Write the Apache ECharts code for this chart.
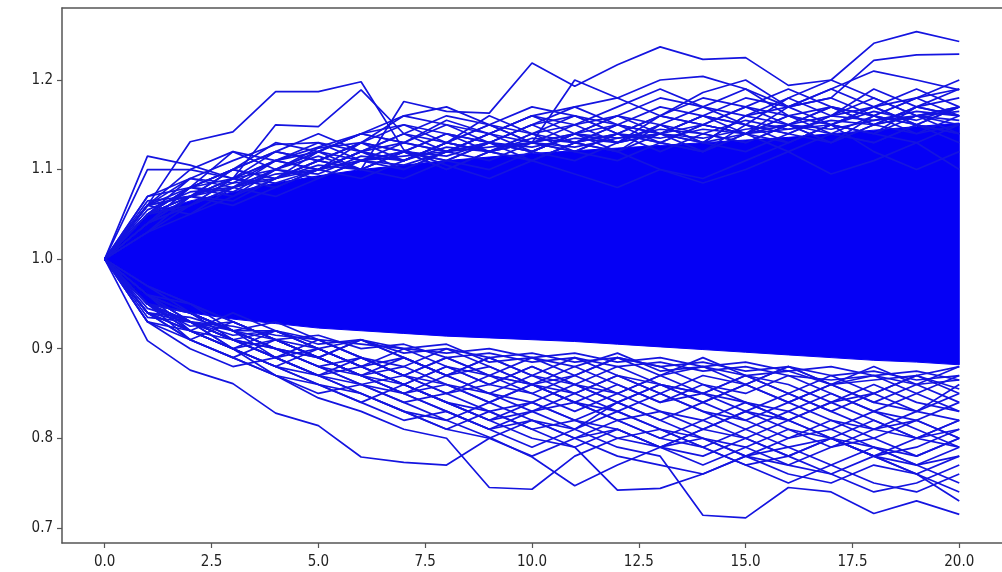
<!DOCTYPE html>
<html>
<head>
<meta charset="utf-8">
<script src="https://cdn.jsdelivr.net/npm/echarts@6/dist/echarts.min.js"></script>
<style>
  html, body { margin: 0; padding: 0; background: #fff; }
  #chart { width: 1002px; height: 572px; }
</style>
</head>
<body>
<div id="chart"></div>
<script>
const steps = [0, 1, 2, 3, 4, 5, 6, 7, 8, 9, 10, 11, 12, 13, 14, 15, 16, 17, 18, 19, 20];
const xTicks = [0, 2.5, 5, 7.5, 10, 12.5, 15, 17.5, 20];
const yTicks = [0.7, 0.8, 0.9, 1.0, 1.1, 1.2];

// dense core where the paths overlap into a solid mass
const coreUpper = [1.0, 1.05, 1.065, 1.075, 1.085, 1.093, 1.10, 1.105, 1.11, 1.114, 1.118, 1.121, 1.124, 1.127, 1.13, 1.133, 1.136, 1.14, 1.144, 1.148, 1.152];
const coreLower = [1.0, 0.95, 0.94, 0.933, 0.928, 0.923, 0.92, 0.917, 0.914, 0.912, 0.91, 0.908, 0.905, 0.902, 0.899, 0.896, 0.893, 0.89, 0.887, 0.885, 0.882];

// paths that stick out above the core
const upperPaths = [
  [1, 1.06, 1.131, 1.142, 1.187, 1.187, 1.198, 1.122, 1.105, 1.09, 1.11, 1.095, 1.08, 1.10, 1.085, 1.10, 1.12, 1.095, 1.11, 1.13, 1.10],
  [1, 1.115, 1.105, 1.09, 1.15, 1.148, 1.189, 1.14, 1.12, 1.13, 1.11, 1.13, 1.12, 1.10, 1.09, 1.11, 1.13, 1.15, 1.12, 1.10, 1.12],
  [1, 1.10, 1.10, 1.12, 1.11, 1.12, 1.10, 1.176, 1.165, 1.163, 1.219, 1.193, 1.217, 1.237, 1.223, 1.225, 1.194, 1.20, 1.241, 1.254, 1.243],
  [1, 1.04, 1.07, 1.10, 1.13, 1.12, 1.14, 1.16, 1.15, 1.14, 1.13, 1.20, 1.18, 1.20, 1.204, 1.19, 1.17, 1.18, 1.222, 1.228, 1.229],
  [1, 1.05, 1.08, 1.09, 1.12, 1.14, 1.12, 1.13, 1.15, 1.13, 1.15, 1.17, 1.18, 1.16, 1.186, 1.20, 1.17, 1.19, 1.21, 1.20, 1.189],
  [1, 1.07, 1.09, 1.11, 1.128, 1.13, 1.11, 1.12, 1.10, 1.12, 1.14, 1.13, 1.15, 1.14, 1.16, 1.15, 1.18, 1.16, 1.17, 1.18, 1.16],
  [1, 1.06, 1.08, 1.12, 1.10, 1.124, 1.13, 1.16, 1.17, 1.15, 1.13, 1.14, 1.12, 1.14, 1.13, 1.16, 1.17, 1.15, 1.14, 1.16, 1.17],
  [1, 1.05, 1.09, 1.085, 1.11, 1.125, 1.14, 1.13, 1.155, 1.14, 1.16, 1.15, 1.16, 1.18, 1.17, 1.19, 1.16, 1.17, 1.15, 1.17, 1.18],
  [1, 1.04, 1.06, 1.09, 1.08, 1.10, 1.12, 1.11, 1.13, 1.16, 1.14, 1.15, 1.13, 1.15, 1.17, 1.15, 1.14, 1.16, 1.18, 1.16, 1.15],
  [1, 1.03, 1.07, 1.08, 1.10, 1.09, 1.11, 1.13, 1.12, 1.14, 1.16, 1.14, 1.16, 1.15, 1.13, 1.14, 1.16, 1.15, 1.17, 1.19, 1.17],
  [1, 1.06, 1.05, 1.08, 1.09, 1.11, 1.13, 1.15, 1.14, 1.12, 1.13, 1.15, 1.17, 1.19, 1.17, 1.16, 1.15, 1.13, 1.15, 1.14, 1.16],
  [1, 1.05, 1.07, 1.065, 1.09, 1.10, 1.12, 1.10, 1.12, 1.14, 1.12, 1.11, 1.13, 1.16, 1.15, 1.17, 1.19, 1.17, 1.16, 1.14, 1.15],
  [1, 1.04, 1.08, 1.10, 1.09, 1.11, 1.10, 1.12, 1.14, 1.13, 1.15, 1.13, 1.14, 1.12, 1.14, 1.13, 1.15, 1.17, 1.16, 1.18, 1.20],
  [1, 1.03, 1.05, 1.07, 1.09, 1.11, 1.13, 1.12, 1.10, 1.12, 1.13, 1.12, 1.14, 1.16, 1.18, 1.17, 1.15, 1.14, 1.16, 1.15, 1.14],
  [1, 1.06, 1.09, 1.08, 1.10, 1.115, 1.10, 1.09, 1.11, 1.13, 1.15, 1.16, 1.14, 1.13, 1.15, 1.14, 1.12, 1.14, 1.13, 1.15, 1.17],
  [1, 1.05, 1.06, 1.09, 1.11, 1.10, 1.12, 1.14, 1.13, 1.12, 1.11, 1.13, 1.15, 1.14, 1.12, 1.15, 1.14, 1.16, 1.19, 1.17, 1.16],
  [1, 1.04, 1.07, 1.09, 1.10, 1.12, 1.11, 1.10, 1.12, 1.11, 1.13, 1.14, 1.13, 1.15, 1.14, 1.13, 1.15, 1.17, 1.15, 1.16, 1.14],
  [1, 1.05, 1.08, 1.10, 1.12, 1.11, 1.13, 1.11, 1.13, 1.15, 1.14, 1.16, 1.15, 1.13, 1.15, 1.17, 1.16, 1.15, 1.17, 1.15, 1.13],
  [1, 1.04, 1.06, 1.08, 1.07, 1.09, 1.11, 1.12, 1.14, 1.13, 1.12, 1.14, 1.13, 1.14, 1.16, 1.15, 1.13, 1.15, 1.14, 1.17, 1.16],
  [1, 1.05, 1.07, 1.06, 1.08, 1.10, 1.09, 1.11, 1.13, 1.12, 1.14, 1.12, 1.14, 1.16, 1.15, 1.14, 1.17, 1.18, 1.16, 1.15, 1.17],
  [1, 1.07, 1.08, 1.10, 1.09, 1.12, 1.14, 1.15, 1.13, 1.15, 1.13, 1.12, 1.11, 1.13, 1.12, 1.14, 1.16, 1.14, 1.13, 1.15, 1.14],
  [1, 1.06, 1.10, 1.09, 1.11, 1.10, 1.13, 1.12, 1.11, 1.10, 1.12, 1.14, 1.16, 1.14, 1.13, 1.12, 1.14, 1.13, 1.16, 1.18, 1.19],
  [1, 1.03, 1.06, 1.08, 1.11, 1.13, 1.12, 1.14, 1.16, 1.15, 1.17, 1.16, 1.14, 1.13, 1.12, 1.14, 1.13, 1.15, 1.14, 1.13, 1.15],
  [1, 1.05, 1.07, 1.10, 1.12, 1.11, 1.10, 1.12, 1.11, 1.13, 1.12, 1.14, 1.15, 1.17, 1.16, 1.18, 1.17, 1.19, 1.17, 1.15, 1.14],
  [1, 1.04, 1.08, 1.07, 1.10, 1.12, 1.14, 1.13, 1.12, 1.14, 1.16, 1.17, 1.15, 1.14, 1.16, 1.14, 1.15, 1.13, 1.15, 1.17, 1.19],
  [1, 1.06, 1.07, 1.09, 1.08, 1.10, 1.12, 1.11, 1.13, 1.12, 1.11, 1.13, 1.12, 1.15, 1.13, 1.16, 1.18, 1.20, 1.18, 1.16, 1.17],
  [1, 1.055, 1.075, 1.08, 1.095, 1.10, 1.11, 1.115, 1.12, 1.125, 1.13, 1.125, 1.135, 1.14, 1.135, 1.145, 1.15, 1.145, 1.155, 1.16, 1.165],
  [1, 1.06, 1.07, 1.085, 1.09, 1.105, 1.10, 1.12, 1.115, 1.13, 1.125, 1.135, 1.13, 1.14, 1.15, 1.14, 1.145, 1.155, 1.15, 1.16, 1.155],
  [1, 1.05, 1.08, 1.075, 1.10, 1.095, 1.115, 1.11, 1.125, 1.12, 1.135, 1.13, 1.14, 1.135, 1.145, 1.14, 1.15, 1.16, 1.155, 1.165, 1.16],
  [1, 1.065, 1.07, 1.09, 1.085, 1.10, 1.11, 1.105, 1.12, 1.13, 1.12, 1.14, 1.135, 1.145, 1.14, 1.155, 1.145, 1.15, 1.165, 1.155, 1.17]
];

// paths that stick out below the core
const lowerPaths = [
  [1, 0.909, 0.876, 0.861, 0.828, 0.814, 0.779, 0.773, 0.77, 0.80, 0.82, 0.81, 0.84, 0.86, 0.85, 0.87, 0.86, 0.84, 0.85, 0.87, 0.88],
  [1, 0.95, 0.93, 0.90, 0.87, 0.845, 0.83, 0.81, 0.80, 0.745, 0.743, 0.78, 0.80, 0.79, 0.81, 0.83, 0.82, 0.84, 0.82, 0.80, 0.82],
  [1, 0.96, 0.94, 0.92, 0.89, 0.87, 0.85, 0.83, 0.82, 0.801, 0.779, 0.747, 0.77, 0.79, 0.77, 0.79, 0.81, 0.80, 0.78, 0.79, 0.81],
  [1, 0.97, 0.95, 0.93, 0.91, 0.90, 0.88, 0.86, 0.84, 0.82, 0.80, 0.79, 0.742, 0.744, 0.76, 0.78, 0.77, 0.79, 0.80, 0.78, 0.80],
  [1, 0.96, 0.93, 0.91, 0.90, 0.88, 0.86, 0.85, 0.83, 0.81, 0.83, 0.81, 0.79, 0.78, 0.714, 0.711, 0.745, 0.74, 0.716, 0.73, 0.715],
  [1, 0.95, 0.92, 0.90, 0.88, 0.87, 0.85, 0.83, 0.81, 0.80, 0.78, 0.80, 0.78, 0.77, 0.76, 0.78, 0.76, 0.75, 0.77, 0.76, 0.73],
  [1, 0.94, 0.91, 0.89, 0.87, 0.86, 0.84, 0.82, 0.83, 0.81, 0.82, 0.80, 0.81, 0.79, 0.80, 0.78, 0.79, 0.77, 0.75, 0.74, 0.76],
  [1, 0.97, 0.94, 0.92, 0.90, 0.89, 0.87, 0.88, 0.86, 0.85, 0.83, 0.84, 0.82, 0.80, 0.79, 0.81, 0.79, 0.80, 0.78, 0.76, 0.74],
  [1, 0.96, 0.94, 0.91, 0.89, 0.87, 0.86, 0.84, 0.85, 0.83, 0.81, 0.82, 0.84, 0.82, 0.80, 0.79, 0.77, 0.76, 0.74, 0.75, 0.77],
  [1, 0.95, 0.93, 0.91, 0.92, 0.90, 0.88, 0.86, 0.84, 0.83, 0.84, 0.82, 0.80, 0.81, 0.79, 0.77, 0.78, 0.80, 0.79, 0.77, 0.78],
  [1, 0.93, 0.90, 0.88, 0.89, 0.87, 0.89, 0.87, 0.85, 0.87, 0.86, 0.88, 0.86, 0.84, 0.85, 0.83, 0.85, 0.83, 0.81, 0.82, 0.80],
  [1, 0.94, 0.92, 0.90, 0.88, 0.90, 0.88, 0.86, 0.88, 0.86, 0.85, 0.83, 0.85, 0.87, 0.85, 0.84, 0.82, 0.84, 0.86, 0.84, 0.83],
  [1, 0.95, 0.91, 0.89, 0.91, 0.89, 0.87, 0.89, 0.87, 0.89, 0.87, 0.86, 0.84, 0.82, 0.84, 0.86, 0.84, 0.82, 0.80, 0.82, 0.84],
  [1, 0.96, 0.93, 0.91, 0.89, 0.91, 0.89, 0.87, 0.86, 0.84, 0.86, 0.85, 0.87, 0.85, 0.83, 0.81, 0.83, 0.85, 0.83, 0.81, 0.79],
  [1, 0.94, 0.93, 0.91, 0.90, 0.88, 0.87, 0.85, 0.87, 0.88, 0.86, 0.84, 0.83, 0.85, 0.87, 0.86, 0.88, 0.86, 0.84, 0.83, 0.85],
  [1, 0.95, 0.94, 0.92, 0.90, 0.89, 0.91, 0.89, 0.87, 0.85, 0.87, 0.89, 0.87, 0.85, 0.83, 0.82, 0.80, 0.82, 0.81, 0.83, 0.86],
  [1, 0.96, 0.92, 0.90, 0.88, 0.86, 0.84, 0.86, 0.84, 0.82, 0.84, 0.86, 0.88, 0.86, 0.85, 0.87, 0.85, 0.83, 0.85, 0.87, 0.85],
  [1, 0.93, 0.91, 0.89, 0.87, 0.85, 0.86, 0.84, 0.82, 0.84, 0.86, 0.84, 0.82, 0.83, 0.81, 0.83, 0.81, 0.79, 0.81, 0.80, 0.82],
  [1, 0.95, 0.93, 0.92, 0.90, 0.88, 0.86, 0.87, 0.89, 0.87, 0.85, 0.87, 0.85, 0.83, 0.82, 0.80, 0.82, 0.80, 0.78, 0.80, 0.79],
  [1, 0.94, 0.92, 0.91, 0.89, 0.90, 0.88, 0.89, 0.87, 0.85, 0.84, 0.82, 0.81, 0.79, 0.81, 0.80, 0.78, 0.76, 0.78, 0.77, 0.75],
  [1, 0.96, 0.95, 0.93, 0.91, 0.89, 0.87, 0.85, 0.83, 0.81, 0.79, 0.81, 0.83, 0.81, 0.79, 0.77, 0.75, 0.77, 0.79, 0.78, 0.80],
  [1, 0.95, 0.92, 0.94, 0.92, 0.90, 0.88, 0.90, 0.88, 0.86, 0.88, 0.86, 0.85, 0.87, 0.89, 0.87, 0.85, 0.87, 0.85, 0.83, 0.82],
  [1, 0.94, 0.91, 0.93, 0.91, 0.89, 0.91, 0.89, 0.87, 0.89, 0.87, 0.85, 0.87, 0.86, 0.84, 0.86, 0.88, 0.86, 0.87, 0.85, 0.87],
  [1, 0.96, 0.94, 0.92, 0.91, 0.89, 0.87, 0.85, 0.86, 0.84, 0.82, 0.80, 0.82, 0.80, 0.82, 0.84, 0.82, 0.80, 0.78, 0.76, 0.78],
  [1, 0.95, 0.93, 0.90, 0.92, 0.91, 0.89, 0.88, 0.90, 0.88, 0.86, 0.87, 0.89, 0.87, 0.88, 0.86, 0.84, 0.86, 0.84, 0.86, 0.84],
  [1, 0.97, 0.95, 0.92, 0.90, 0.88, 0.89, 0.87, 0.85, 0.86, 0.88, 0.86, 0.84, 0.86, 0.84, 0.82, 0.84, 0.86, 0.88, 0.86, 0.88],
  [1, 0.94, 0.92, 0.90, 0.91, 0.89, 0.87, 0.86, 0.84, 0.82, 0.83, 0.85, 0.83, 0.81, 0.80, 0.78, 0.80, 0.81, 0.79, 0.77, 0.79],
  [1, 0.96, 0.93, 0.91, 0.89, 0.87, 0.88, 0.86, 0.88, 0.87, 0.89, 0.87, 0.89, 0.88, 0.86, 0.84, 0.83, 0.81, 0.83, 0.82, 0.80],
  [1, 0.95, 0.94, 0.92, 0.93, 0.91, 0.89, 0.87, 0.89, 0.87, 0.86, 0.84, 0.86, 0.84, 0.86, 0.85, 0.87, 0.85, 0.83, 0.85, 0.83],
  [1, 0.93, 0.92, 0.90, 0.88, 0.86, 0.85, 0.83, 0.81, 0.83, 0.81, 0.79, 0.81, 0.79, 0.78, 0.80, 0.78, 0.80, 0.82, 0.80, 0.81],
  [1, 0.945, 0.93, 0.925, 0.915, 0.91, 0.905, 0.90, 0.895, 0.90, 0.89, 0.895, 0.885, 0.89, 0.88, 0.885, 0.875, 0.88, 0.87, 0.875, 0.865],
  [1, 0.94, 0.935, 0.92, 0.92, 0.905, 0.91, 0.895, 0.90, 0.89, 0.895, 0.885, 0.89, 0.88, 0.885, 0.875, 0.88, 0.87, 0.875, 0.865, 0.87],
  [1, 0.95, 0.925, 0.93, 0.91, 0.915, 0.90, 0.905, 0.89, 0.895, 0.885, 0.89, 0.88, 0.885, 0.875, 0.88, 0.87, 0.865, 0.87, 0.86, 0.865],
  [1, 0.935, 0.93, 0.915, 0.92, 0.90, 0.91, 0.90, 0.905, 0.885, 0.89, 0.88, 0.895, 0.875, 0.88, 0.87, 0.875, 0.86, 0.865, 0.87, 0.855]
];

const lineColor = '#1414e0';
const fillColor = '#0500f5';
const axisColor = '#555';
const labelFont = "'Liberation Sans Narrow', 'DejaVu Sans Condensed', 'DejaVu Sans', sans-serif";

const toPoints = arr => arr.map((v, i) => [steps[i], v]);

const series = [
  {
    // solid core, outline goes along the upper edge then back along the lower edge
    type: 'custom',
    silent: true,
    data: [0],
    renderItem(params, api) {
      const pts = steps.map((x, i) => api.coord([x, coreUpper[i]]));
      for (let i = steps.length - 1; i >= 0; i--) {
        pts.push(api.coord([steps[i], coreLower[i]]));
      }
      return {
        type: 'polygon',
        shape: { points: pts },
        style: { fill: fillColor, stroke: fillColor, lineWidth: 1 }
      };
    }
  }
];

upperPaths.concat(lowerPaths).forEach(p => {
  series.push({
    type: 'line',
    symbol: 'none',
    silent: true,
    lineStyle: { color: lineColor, width: 1.7 },
    data: toPoints(p)
  });
});

const axisLabel = {
  customValues: null,
  formatter: v => v.toFixed(1),
  color: '#222',
  fontSize: 15,
  fontFamily: labelFont
};

const chart = echarts.init(document.getElementById('chart'));
chart.setOption({
  animation: false,
  backgroundColor: '#fff',
  grid: {
    left: 62,
    top: 8,
    width: 950,
    height: 535
  },
  xAxis: [
    {
      type: 'value',
      min: -1,
      max: 21,
      splitLine: { show: false },
      axisLine: { show: true, onZero: false, lineStyle: { color: axisColor, width: 1.5 } },
      axisTick: { show: true, customValues: xTicks, length: 5, lineStyle: { color: axisColor, width: 1.2 } },
      axisLabel: Object.assign({}, axisLabel, { customValues: xTicks, margin: 12 })
    },
    {
      // top spine only
      type: 'value',
      position: 'top',
      min: -1,
      max: 21,
      splitLine: { show: false },
      axisLine: { show: true, onZero: false, lineStyle: { color: axisColor, width: 1.5 } },
      axisTick: { show: false },
      axisLabel: { show: false }
    }
  ],
  yAxis: {
    type: 'value',
    min: 0.683,
    max: 1.2804,
    splitLine: { show: false },
    axisLine: { show: true, onZero: false, lineStyle: { color: axisColor, width: 1.5 } },
    axisTick: { show: true, customValues: yTicks, length: 5, lineStyle: { color: axisColor, width: 1.2 } },
    axisLabel: Object.assign({}, axisLabel, { customValues: yTicks, margin: 9 })
  },
  series: series
});
</script>
</body>
</html>
